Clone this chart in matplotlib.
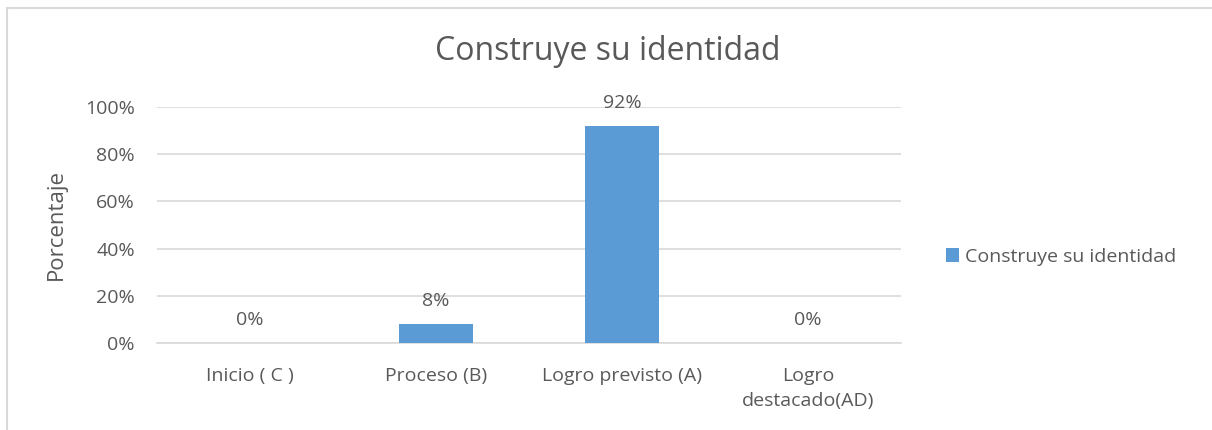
import matplotlib
matplotlib.use("Agg")
import matplotlib.pyplot as plt
from matplotlib.patches import Rectangle

categories = ["Inicio ( C )", "Proceso (B)", "Logro previsto (A)", "Logro\ndestacado(AD)"]
values = [0.0, 0.08, 0.92, 0.0]
labels = ["0%", "8%", "92%", "0%"]
yticks = [0, 0.2, 0.4, 0.6, 0.8, 1.0]
ytick_labels = ["0%", "20%", "40%", "60%", "80%", "100%"]
series_name = "Construye su identidad"
title = "Construye su identidad"

plt.rcParams['font.family'] = ['Open Sans', 'DejaVu Sans']
txt = "#595959"
grid = "#d9d9d9"
bar_c = "#5b9bd5"
fs = 14

fig = plt.figure(figsize=(12.12, 4.3), dpi=100)
W, H = 1212, 430
ax = fig.add_axes([157 / W, 1 - 343 / H, (901 - 157) / W, (343 - 107) / H])

x = list(range(len(categories)))
ax.bar(x, values, width=0.4, color=bar_c, label=series_name, zorder=3)
for xi, v, lab in zip(x, values, labels):
    ax.text(xi, v + 0.06, lab, ha="center", va="bottom", fontsize=fs, color=txt)

ax.set_xlim(-0.5, len(categories) - 0.5)
ax.set_ylim(0, 1.0)
ax.set_yticks(yticks)
ax.set_yticklabels(ytick_labels)
ax.set_xticks(x)
ax.set_xticklabels(categories)
ax.tick_params(axis="both", length=0, labelsize=fs, colors=txt)
ax.tick_params(axis="y", pad=16)
ax.tick_params(axis="x", pad=17.5)
for lbl in ax.get_xticklabels():
    lbl.set_linespacing(1.45)
ax.yaxis.grid(True, color=grid, linewidth=1.2, zorder=0)
for s in ["top", "right", "left"]:
    ax.spines[s].set_visible(False)
ax.spines["bottom"].set_color(grid)
ax.spines["bottom"].set_linewidth(1.2)
ax.set_ylabel("Porcentaje", fontsize=16, color=txt)
ax.yaxis.set_label_coords(67 / W, 1 - 224 / H, transform=fig.transFigure)

fig.text(608 / W, 1 - 52 / H, title, ha="center", va="center", fontsize=23, color=txt)

ax.legend(loc="center left", bbox_to_anchor=(928 / W, 1 - 257 / H),
          bbox_transform=fig.transFigure, frameon=False, fontsize=fs,
          handlelength=0.7, handleheight=0.7, handletextpad=0.3, labelcolor=txt)

fig.patches.append(Rectangle((7 / W, -0.1), 1.2, 1 - 8 / H + 0.1, transform=fig.transFigure,
                             fill=False, edgecolor="#d9d9d9", linewidth=1.5))

fig.savefig("out.png", dpi=100)
